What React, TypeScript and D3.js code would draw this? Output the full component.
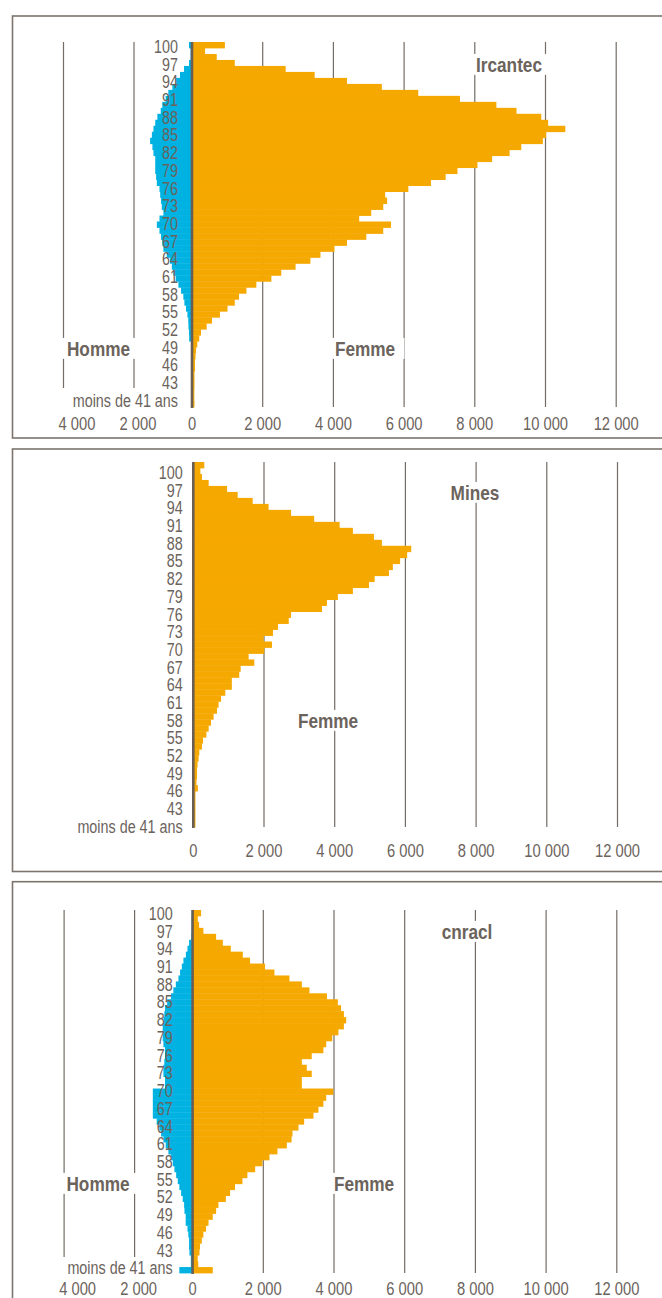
import React from "react";
import * as d3 from "d3";

// age classes, top row first
const AGES = [
  "100", "99", "98", "97", "96", "95", "94", "93", "92", "91",
  "90", "89", "88", "87", "86", "85", "84", "83", "82", "81",
  "80", "79", "78", "77", "76", "75", "74", "73", "72", "71",
  "70", "69", "68", "67", "66", "65", "64", "63", "62", "61",
  "60", "59", "58", "57", "56", "55", "54", "53", "52", "51",
  "50", "49", "48", "47", "46", "45", "44", "43", "42", "41",
  "moins de 41 ans",
];
const AGE_LABELS = [
  "100", "97", "94", "91", "88", "85", "82", "79", "76", "73",
  "70", "67", "64", "61", "58", "55", "52", "49", "46", "43",
  "moins de 41 ans",
];

const IRCANTEC_FEMME = [
  930, 370, 700, 1210, 2650, 3470, 4385, 5370, 6400, 7580,
  8610, 9180, 9880, 10075, 10560, 10020, 9925, 9315, 8985, 8490,
  8075, 7510, 7175, 6760, 6120, 5465, 5520, 5410, 5070, 4730,
  5630, 5410, 4930, 4385, 4030, 3634, 3350, 2930, 2525, 2245,
  1820, 1540, 1330, 1210, 1005, 790, 565, 415, 255, 205,
  150, 115, 100, 85, 85, 70, 70, 70, 65, 65,
  70,
];
const IRCANTEC_HOMME = [
  85, 40, 40, 85, 225, 340, 460, 555, 670, 745,
  840, 885, 980, 1040, 1090, 1135, 1185, 1120, 1090, 1040,
  1040, 1040, 1015, 995, 920, 900, 875, 855, 810, 920,
  995, 920, 875, 840, 810, 715, 620, 570, 525, 460,
  385, 310, 245, 215, 170, 130, 105, 100, 85, 80,
  0, 0, 0, 0, 0, 0, 0, 0, 0, 0,
  0,
];
const MINES_FEMME = [
  311, 200, 245, 435, 955, 1255, 1680, 2130, 2765, 3420,
  4140, 4515, 5110, 5335, 6165, 6050, 5850, 5645, 5535, 5130,
  4970, 4515, 4090, 3780, 3640, 2765, 2700, 2395, 2255, 1990,
  2225, 2010, 1565, 1725, 1340, 1300, 1090, 1090, 905, 785,
  715, 670, 575, 500, 435, 370, 275, 245, 170, 150,
  120, 105, 105, 90, 130, 60, 60, 60, 60, 60,
  60,
];
const CNRACL_FEMME = [
  240, 147, 184, 305, 665, 855, 1080, 1420, 1625, 2050,
  2315, 2740, 3090, 3305, 3800, 4110, 4200, 4280, 4345, 4280,
  4125, 3950, 3780, 3700, 3370, 3090, 3230, 3370, 3090, 3090,
  3980, 3780, 3700, 3560, 3420, 3155, 2995, 2825, 2800, 2665,
  2400, 2175, 1975, 1770, 1550, 1410, 1200, 1060, 940, 730,
  665, 570, 450, 380, 305, 260, 210, 195, 145, 160,
  570,
];
const CNRACL_HOMME = [
  25, 30, 30, 30, 40, 100, 145, 190, 260, 305,
  355, 400, 475, 545, 615, 720, 780, 800, 825, 845,
  845, 845, 825, 780, 780, 800, 825, 825, 780, 780,
  1125, 1125, 1125, 1125, 1125, 1015, 940, 890, 825, 760,
  685, 615, 560, 515, 465, 420, 375, 325, 280, 240,
  230, 195, 195, 145, 120, 100, 100, 90, 50, 50,
  375,
];

const TICKS_FEMME = [0, 2000, 4000, 6000, 8000, 10000, 12000];
const TICKS_HOMME = [2000, 4000];

const W = 662;
const H = 1298;
// no narrow face installed: squeeze Liberation Sans (Arial metrics) horizontally
const FONT = "'Liberation Sans', Arial, sans-serif";
const ORANGE = "#f5a800";
const BLUE = "#00b2e2";
const INK = "#6b635c";
const GRID = "#746c65";
const AXIS = "#6a5e54";
const PX_PER_UNIT = 70.7 / 2000;

const fmt = d3.formatLocale({
  decimal: ",",
  thousands: " ",
  grouping: [3],
  currency: ["", " €"],
}).format(",");

const PANELS = [
  {
    title: "Ircantec",
    femme: IRCANTEC_FEMME,
    homme: IRCANTEC_HOMME,
    box: [16, 438],
    zero: 192,
    barTop: 42,
    barBottom: 407,
    maleGridBottom: 388,
    labelRight: 178,
    labelTop: 46.7,
    labelBottom: 400.5,
    tickY: 423,
    titleAt: [509, 64],
    femmeAt: [365, 348],
    hommeAt: [98.5, 348],
  },
  {
    title: "Mines",
    femme: MINES_FEMME,
    homme: null,
    box: [449, 871.5],
    zero: 193.3,
    barTop: 462,
    barBottom: 827,
    maleGridBottom: 0,
    labelRight: 182.7,
    labelTop: 472.7,
    labelBottom: 826.5,
    tickY: 850,
    titleAt: [475, 492],
    femmeAt: [328, 720],
    hommeAt: null,
  },
  {
    title: "cnracl",
    femme: CNRACL_FEMME,
    homme: CNRACL_HOMME,
    box: [881.7, 1320],
    zero: 192.6,
    barTop: 910,
    barBottom: 1273,
    maleGridBottom: 1257,
    labelRight: 172.7,
    labelTop: 913.5,
    labelBottom: 1268,
    tickY: 1288.5,
    titleAt: [467, 931],
    femmeAt: [364, 1183],
    hommeAt: [98, 1183],
  },
];

type Panel = (typeof PANELS)[number];

// a narrow text: anchor point at (x, y), squeezed around it
function narrowText(
  g: any,
  text: string,
  x: number,
  y: number,
  size: number,
  squeeze: number,
  anchor: string,
  bold = false
) {
  const grp = g
    .append("g")
    .attr("transform", `translate(${x},${y}) scale(${squeeze},1)`);
  const t = grp
    .append("text")
    .attr("text-anchor", anchor)
    .attr("font-size", size)
    .attr("font-weight", bold ? "bold" : "normal")
    .attr("fill", INK)
    .text(text);
  return { grp, t };
}

function boxedLabel(g: any, text: string, at: number[]) {
  const sq = 0.82;
  const { grp, t } = narrowText(g, text, at[0], at[1] + 7.5, 21, sq, "middle", true);
  const bb = (t.node() as SVGTextElement).getBBox();
  grp
    .insert("rect", "text")
    .attr("fill", "white")
    .attr("x", bb.x - 9 / sq)
    .attr("y", bb.y + 1)
    .attr("width", bb.width + 18 / sq)
    .attr("height", bb.height - 2);
}

function drawPanel(svg: any, p: Panel) {
  const g = svg.append("g");

  g.append("rect")
    .attr("x", 12.5)
    .attr("y", p.box[0])
    .attr("width", 700)
    .attr("height", p.box[1] - p.box[0])
    .attr("fill", "none")
    .attr("stroke", "#7c746d")
    .attr("stroke-width", 1.6);

  const x = d3
    .scaleLinear()
    .domain([0, 12000])
    .range([p.zero, p.zero + 12000 * PX_PER_UNIT]);
  const xm = d3
    .scaleLinear()
    .domain([0, 4000])
    .range([p.zero, p.zero - 4000 * PX_PER_UNIT]);
  // the left grid of the source sits slightly off the bar scale
  const xmGrid = d3
    .scaleLinear()
    .domain([2000, 4000])
    .range([p.zero - 58, p.zero - 128.5]);
  const xmLabel = d3
    .scaleLinear()
    .domain([2000, 4000])
    .range([p.zero - 54, p.zero - 115]);

  const y = d3.scaleBand<string>().domain(AGES).range([p.barTop, p.barBottom]);
  const yl = d3
    .scalePoint<string>()
    .domain(AGES)
    .range([p.labelTop, p.labelBottom]);

  // grid
  g.selectAll("line.gridf")
    .data(TICKS_FEMME.filter((t) => t > 0))
    .enter()
    .append("line")
    .attr("x1", (d: number) => x(d))
    .attr("x2", (d: number) => x(d))
    .attr("y1", p.barTop)
    .attr("y2", p.barBottom)
    .attr("stroke", GRID)
    .attr("stroke-width", 1.2);

  if (p.homme) {
    g.selectAll("line.gridm")
      .data(TICKS_HOMME)
      .enter()
      .append("line")
      .attr("x1", (d: number) => xmGrid(d))
      .attr("x2", (d: number) => xmGrid(d))
      .attr("y1", p.barTop)
      .attr("y2", p.maleGridBottom)
      .attr("stroke", GRID)
      .attr("stroke-width", 1.2);
  }

  // bars
  g.selectAll("rect.femme")
    .data(p.femme)
    .enter()
    .append("rect")
    .attr("x", p.zero)
    .attr("y", (_: number, i: number) => y(AGES[i])!)
    .attr("width", (d: number) => Math.max(0, x(d) - p.zero))
    .attr("height", y.bandwidth() + 0.4)
    .attr("fill", ORANGE);

  if (p.homme) {
    g.selectAll("rect.homme")
      .data(p.homme)
      .enter()
      .append("rect")
      .attr("x", (d: number) => xm(d))
      .attr("y", (_: number, i: number) => y(AGES[i])!)
      .attr("width", (d: number) => Math.max(0, p.zero - xm(d)))
      .attr("height", y.bandwidth() + 0.4)
      .attr("fill", BLUE);
  }

  // zero axis
  g.append("line")
    .attr("x1", p.zero)
    .attr("x2", p.zero)
    .attr("y1", p.barTop)
    .attr("y2", p.barBottom + 1)
    .attr("stroke", AXIS)
    .attr("stroke-width", 2.6);

  // age labels
  AGE_LABELS.forEach((a) =>
    narrowText(g, a, p.labelRight, yl(a)! + 6.3, 17.5, 0.82, "end")
  );

  // value ticks
  TICKS_FEMME.forEach((v) =>
    narrowText(g, fmt(v), x(v), p.tickY + 6.5, 18, 0.82, "middle")
  );
  if (p.homme) {
    TICKS_HOMME.forEach((v) =>
      narrowText(g, fmt(v), xmLabel(v), p.tickY + 6.5, 18, 0.82, "middle")
    );
  }

  boxedLabel(g, p.title, p.titleAt);
  boxedLabel(g, "Femme", p.femmeAt);
  if (p.hommeAt) boxedLabel(g, "Homme", p.hommeAt);
}

export default function App() {
  const ref = React.useRef<SVGSVGElement>(null);

  React.useEffect(() => {
    const svg = d3.select(ref.current!);
    svg.selectAll("*").remove();
    svg.append("rect").attr("width", W).attr("height", H).attr("fill", "white");
    PANELS.forEach((p) => drawPanel(svg, p));
  }, []);

  return (
    <svg
      ref={ref}
      width={W}
      height={H}
      style={{
        position: "absolute",
        left: 0,
        top: 0,
        display: "block",
        fontFamily: FONT,
      }}
    />
  );
}
